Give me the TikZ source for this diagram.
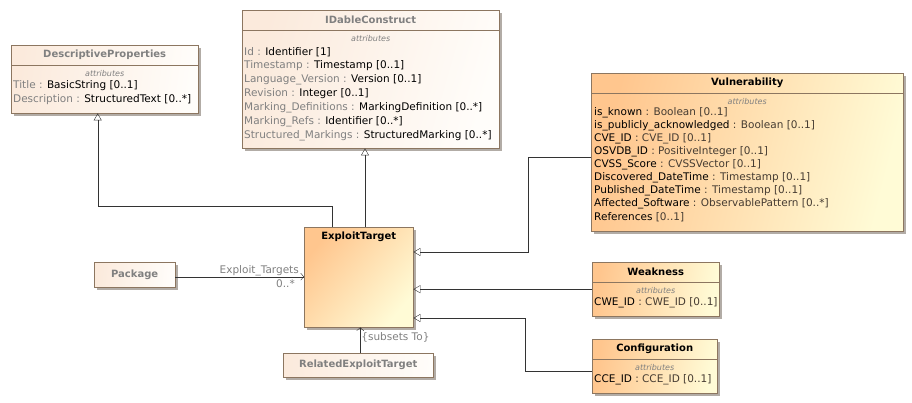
\documentclass[tikz,border=0pt]{standalone}
\usepackage{fontspec}
\setmainfont{DejaVu Sans}
\usepackage{tikz}
\usetikzlibrary{arrows.meta,shadows,positioning}

\definecolor{umlborder}{RGB}{140,118,96}
\definecolor{paleTL}{RGB}{251,234,220}
\definecolor{paleBR}{RGB}{255,253,250}
\definecolor{orangeTL}{RGB}{255,198,142}
\definecolor{orangeBR}{RGB}{255,251,214}
\definecolor{greytext}{RGB}{128,128,128}
\definecolor{typetext}{RGB}{70,60,50}
\definecolor{shadowgrey}{RGB}{178,172,166}

\begin{document}
\begin{tikzpicture}[x=1pt, y=-1pt,
        font=\fontsize{10.5}{12}\selectfont,
        palebox/.style={draw=umlborder, top color=paleTL, bottom color=paleBR, shading angle=#1,
            drop shadow={shadow xshift=3pt, shadow yshift=-3pt, fill=shadowgrey, opacity=1},
            anchor=north west, inner sep=0pt},
        orangebox/.style={palebox=#1, top color=orangeTL, bottom color=orangeBR, shading angle=#1},
        classname/.style={font=\fontsize{10}{12}\selectfont\bfseries, inner sep=0pt},
        attrhead/.style={font=\fontsize{8}{9}\selectfont\itshape, text=greytext, inner sep=0pt},
        attr/.style={anchor=west, inner sep=0pt},
        inherit/.style={draw=black!80, -{Triangle[open, length=7pt, width=8pt]}},
        assoc/.style={draw=black!80, -{Straight Barb[length=3pt, width=7pt]}},
        rolelabel/.style={text=greytext, inner sep=1pt}]
        \useasboundingbox (0,0) rectangle (912,403);

        %Class boxes
        \node[palebox=82, minimum width=187pt, minimum height=68pt] (dp) at (11,45) {};
        \node[palebox=74, minimum width=257pt, minimum height=138pt] (idc) at (242,10) {};
        \node[orangebox=76, minimum width=312pt, minimum height=158pt] (vul) at (591,73) {};
        \node[orangebox=80, minimum width=127pt, minimum height=54pt] (weak) at (592,262) {};
        \node[orangebox=80, minimum width=125pt, minimum height=54pt] (conf) at (592,339) {};
        \node[orangebox=50, minimum width=109pt, minimum height=100pt] (et) at (304,227) {};
        \node[palebox=84, minimum width=81pt, minimum height=25pt] (pkg) at (94,262) {};
        \node[palebox=88, minimum width=150pt, minimum height=24pt] (ret) at (283,353) {};

        %Title compartments
        \foreach \cls in {dp, idc, vul, weak, conf} {
            \draw[umlborder] ([yshift=-20pt]\cls.north west) -- ([yshift=-20pt]\cls.north east);
            \node[attrhead] at ([yshift=-29pt]\cls.north) {attributes};
        }
        \node[classname, text=greytext] (dpname) at ([yshift=-10pt]dp.north) {DescriptiveProperties};
        \node[classname, text=greytext] (idcname) at ([yshift=-10pt]idc.north) {IDableConstruct};
        \node[classname] (vulname) at ([yshift=-10pt]vul.north) {Vulnerability};
        \node[classname] (weakname) at ([yshift=-10pt]weak.north) {Weakness};
        \node[classname] (confname) at ([yshift=-10pt]conf.north) {Configuration};
        \node[classname] (etname) at ([yshift=-10pt]et.north) {ExploitTarget};
        \node[classname, text=greytext] (pkgname) at (pkg.center) {Package};
        \node[classname, text=greytext] (retname) at (ret.center) {RelatedExploitTarget};

        %Attributes
        \foreach \n/\t [count=\i] in {Title/BasicString [0..1], Description/StructuredText [0..*]} {
            \node[attr] at ([xshift=2pt, yshift={-27pt-14pt*\i}]dp.north west)
                {\textcolor{greytext}{\n\ :} \t};
        }
        \foreach \n/\t [count=\i] in {Id/Identifier [1], Timestamp/Timestamp [0..1],
                Language\_Version/Version [0..1], Revision/Integer [0..1],
                Marking\_Definitions/MarkingDefinition [0..*], Marking\_Refs/Identifier [0..*],
                Structured\_Markings/StructuredMarking [0..*]} {
            \node[attr] at ([xshift=2pt, yshift={-28pt-14pt*\i}]idc.north west)
                {\textcolor{greytext}{\n\ :} \t};
        }
        \foreach \n/\t [count=\i] in {is\_known/: Boolean [0..1], is\_publicly\_acknowledged/: Boolean [0..1],
                CVE\_ID/: CVE\_ID [0..1], OSVDB\_ID/: PositiveInteger [0..1], CVSS\_Score/: CVSSVector [0..1],
                Discovered\_DateTime/: Timestamp [0..1], Published\_DateTime/: Timestamp [0..1],
                Affected\_Software/: ObservablePattern [0..*], References/[0..1]} {
            \node[attr] at ([xshift=3pt, yshift={-27pt-13pt*\i}]vul.north west)
                {\n\ \textcolor{typetext}{\t}};
        }
        \node[attr] at ([xshift=2pt, yshift=-41pt]weak.north west) {CWE\_ID \textcolor{typetext}{: CWE\_ID [0..1]}};
        \node[attr] at ([xshift=2pt, yshift=-41pt]conf.north west) {CCE\_ID \textcolor{typetext}{: CCE\_ID [0..1]}};

        %Generalizations
        \draw[inherit] ([xshift=28pt]et.north west) -- ++(0,-21) -| ([xshift=-7pt]dp.south);
        \draw[inherit] ([xshift=61pt]et.north west) -- ([xshift=61pt]et.north west |- idc.south);
        \draw[inherit] ([yshift=-5pt]vul.west) -- ++(-63,0) |- ([yshift=-25pt]et.north east);
        \draw[inherit] (weak.west) -- (weak.west -| et.east);
        \draw[inherit] ([yshift=-5pt]conf.west) -- ++(-67,0) |- ([yshift=-91pt]et.north east);

        %Associations
        \draw[assoc] ([yshift=-2pt]pkg.east) -- ([yshift=-2pt]pkg.east -| et.west)
            node[rolelabel, pos=1, anchor=south east, xshift=-4pt] {Exploit\_Targets}
            node[rolelabel, pos=1, anchor=north east, xshift=-8pt, yshift=-2pt] {0..*};
        \draw[assoc] ([xshift=2pt]ret.north) -- ([xshift=2pt]ret.north |- et.south)
            node[rolelabel, pos=1, anchor=north west, yshift=-4pt] {\{subsets To\}};
    \end{tikzpicture}
\end{document}
